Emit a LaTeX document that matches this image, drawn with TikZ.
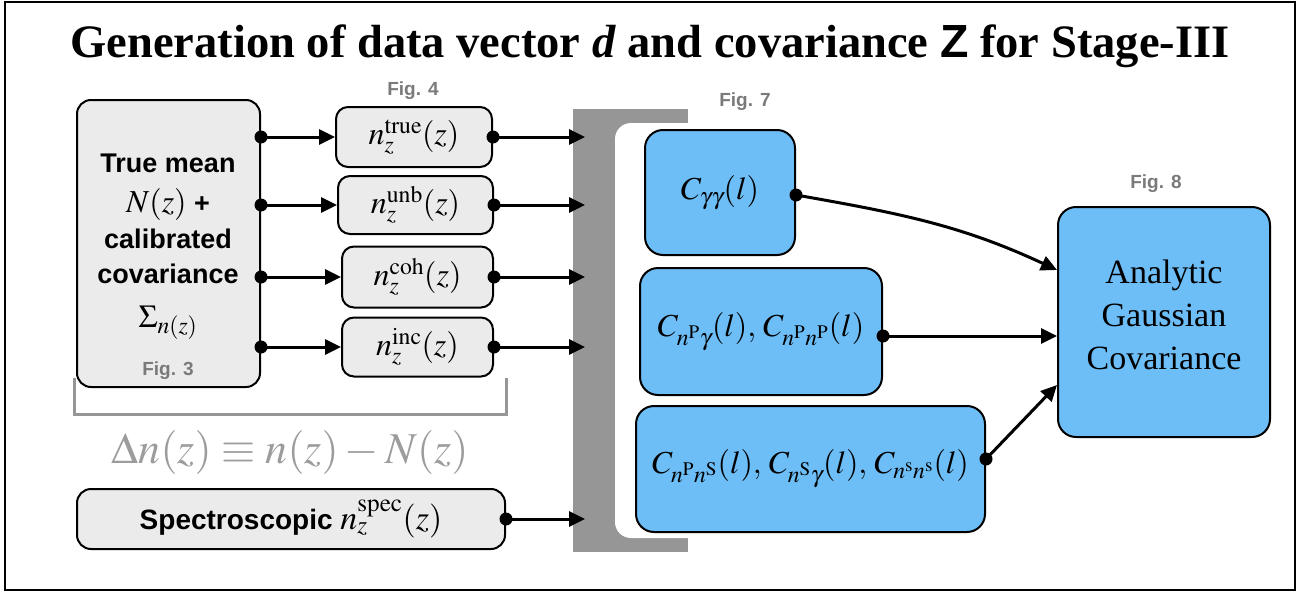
\documentclass[tikz,border=0pt]{standalone}
\usepackage{mathptmx}
\usepackage{fontspec}
\setmainfont{Liberation Serif}
\setsansfont{Liberation Sans}
\usetikzlibrary{arrows.meta}
\definecolor{boxgray}{HTML}{EBEBEB}
\definecolor{boxblue}{HTML}{6DBEF7}
\definecolor{brgray}{HTML}{969696}
\definecolor{figgray}{HTML}{7A7A7A}
\definecolor{lightgray}{HTML}{9C9C9C}
\newcommand{\mth}[1]{{\fontsize{32}{38}\selectfont$#1$}}
\begin{document}
\begin{tikzpicture}[x=1pt,y=-1pt,
  graybox/.style={draw=black, line width=2pt, fill=boxgray, rounded corners=14pt, inner sep=0pt},
  bluebox/.style={draw=black, line width=2pt, fill=boxblue, rounded corners=18pt, inner sep=0pt},
  conn/.style={line width=3pt, -{Triangle[length=16pt,width=15pt]}},
  figlbl/.style={font=\sffamily\bfseries\fontsize{19}{22}\selectfont, text=figgray},
  sanslbl/.style={font=\sffamily\bfseries\fontsize{27}{32}\selectfont},
]
\useasboundingbox (0,0) rectangle (1309,594);
\draw[line width=2.5pt] (5,2) rectangle (1295,590);

\node[anchor=base] (title) at (650,58) {\fontsize{46.5}{52}\selectfont\bfseries Generation of data vector \textit{d} and covariance \textsf{\bfseries Z} for Stage-III};

% left big box
\node[graybox, minimum width=183pt, minimum height=287pt] (big) at (168.5,243.5) {};
\node[sanslbl, anchor=base] (l1) at (168,172) {True mean};
\node[sanslbl, anchor=base] (l2) at (168,212) {\mth{N(z)} +};
\node[sanslbl, anchor=base] (l3) at (168,248) {calibrated};
\node[sanslbl, anchor=base] (l4) at (168,283) {covariance};
\node[anchor=base] (l5) at (168,327) {\mth{\Sigma_{n(z)}}};
\node[figlbl, anchor=base] (f3) at (168,375) {Fig. 3};

% small boxes
\node[figlbl] (f4) at (413,91) {Fig. 4};
\node[graybox, rounded corners=12pt, minimum width=156pt, minimum height=60pt] (t1) at (414,137) {\mth{n_z^{\mathrm{true}}(z)}};
\node[graybox, rounded corners=12pt, minimum width=155pt, minimum height=58pt] (t2) at (415.5,205) {\mth{n_z^{\mathrm{unb}}(z)}};
\node[graybox, rounded corners=12pt, minimum width=151pt, minimum height=61pt] (t3) at (417.5,277) {\mth{n_z^{\mathrm{coh}}(z)}};
\node[graybox, rounded corners=12pt, minimum width=151pt, minimum height=59pt] (t4) at (417.5,347) {\mth{n_z^{\mathrm{inc}}(z)}};

% bracket below
\draw[brgray, line width=3pt] (74,378) -- (74,414) -- (506,414) -- (506,378);
\node[text=lightgray] (delta) at (290,452) {\fontsize{44}{50}\selectfont$\Delta n(z) \equiv n(z) - N(z)$};

% spectroscopic
\node[graybox, minimum width=428pt, minimum height=60pt] (spec) at (291,519) {\sffamily\bfseries\fontsize{28}{32}\selectfont Spectroscopic {\fontsize{34}{38}\selectfont$n_z^{\mathrm{spec}}(z)$}};

% gray bar
\fill[brgray] (573,109) rectangle (688,552);
\fill[white, rounded corners=16pt] (615,123) rectangle (730,538);
\coordinate (bar) at (585,0);

% arrows left
\foreach \t in {t1,t2,t3,t4}{
  \draw[conn] (big.east |- \t.west) -- (\t.west);
  \fill (big.east |- \t.west) circle (6.5pt);
  \draw[conn] (\t.east) -- (\t.east -| bar);
  \fill (\t.east) circle (6.5pt);
}
\draw[conn] (spec.east) -- (spec.east -| bar);
\fill (spec.east) circle (6.5pt);

% blue boxes
\node[figlbl] (f7) at (745,102) {Fig. 7};
\node[bluebox, minimum width=150pt, minimum height=125pt] (c1) at (720,192.5) {\mth{C_{\gamma\gamma}(l)}};
\node[bluebox, minimum width=242pt, minimum height=127pt] (c2) at (761,331.5) {\mth{C_{n^{\mathrm{P}}\gamma}(l),\, C_{n^{\mathrm{P}}n^{\mathrm{P}}}(l)}};
\node[bluebox, minimum width=349pt, minimum height=126pt] (c3) at (810.5,469) {\mth{C_{n^{\mathrm{P}}n^{\mathrm{S}}}(l),\, C_{n^{\mathrm{S}}\gamma}(l),\, C_{n^{\mathrm{s}}n^{\mathrm{s}}}(l)}};

\node[figlbl] (f8) at (1156,184) {Fig. 8};
\node[bluebox, minimum width=212pt, minimum height=230pt] (agc) at (1164,322) {};
\node[align=center, font=\fontsize{34}{43}\selectfont] (agct) at (1164,315) {Analytic\\Gaussian\\Covariance};

\draw[conn] ([yshift=-2.5pt]c1.east) to[out=-10,in=155] ([yshift=52pt]agc.west);
\fill ([yshift=-2.5pt]c1.east) circle (6.5pt);
\draw[conn] ([yshift=-4.5pt]c2.east) -- ([yshift=-14pt]agc.west);
\fill ([yshift=-4.5pt]c2.east) circle (6.5pt);
\draw[conn] ([yshift=10pt]c3.east) -- ([yshift=-63pt]agc.west);
\fill ([yshift=10pt]c3.east) circle (6.5pt);
\end{tikzpicture}
\end{document}
